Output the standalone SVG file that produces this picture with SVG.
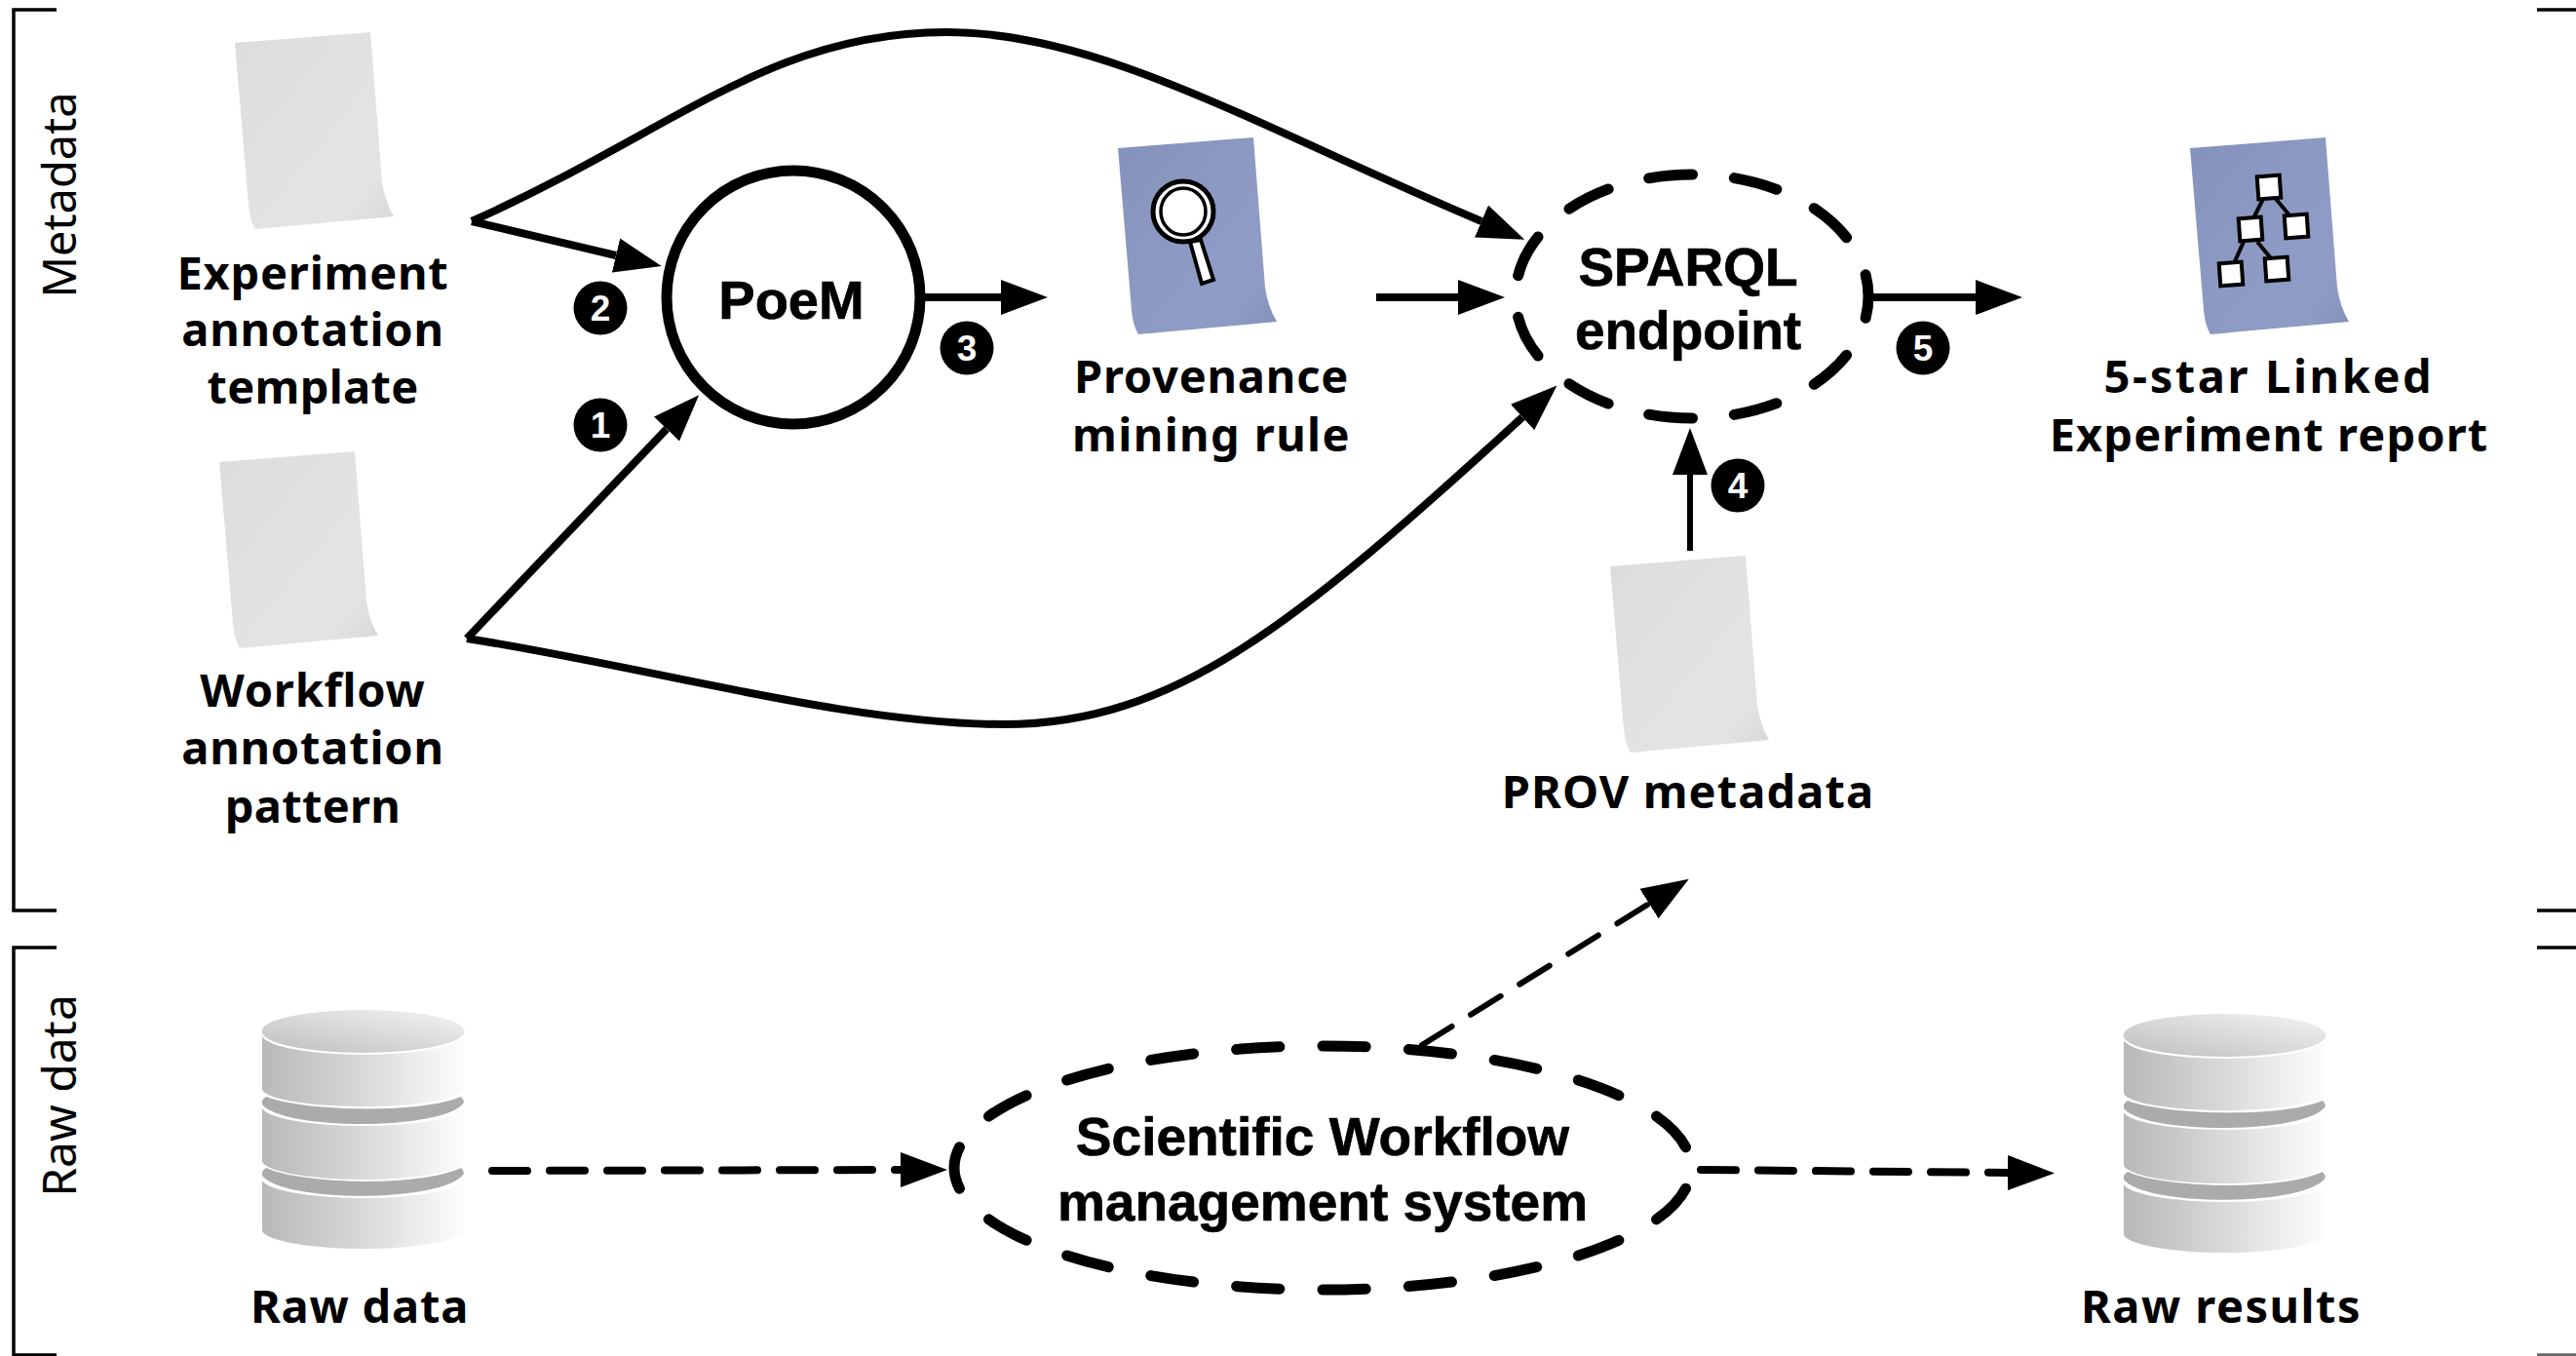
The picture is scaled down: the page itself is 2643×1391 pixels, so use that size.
<svg xmlns="http://www.w3.org/2000/svg" xmlns:xlink="http://www.w3.org/1999/xlink" width="2643" height="1391" viewBox="0 0 2643 1391">
<style>
.lbl{font-family:"Noto Sans","DejaVu Sans",sans-serif;font-weight:700;font-size:47px;text-anchor:middle;fill:#000;letter-spacing:.8px}
.hd{font-family:"Liberation Sans",Arial,sans-serif;font-weight:700;font-size:55px;text-anchor:middle;fill:#000;stroke:#000;stroke-width:.7}
.side{font-family:"Noto Sans","DejaVu Sans",sans-serif;font-size:48px;text-anchor:middle;fill:#000}
.num{font-family:"Liberation Sans",Arial,sans-serif;font-weight:700;font-size:37px;text-anchor:middle;fill:#fff}
.br{fill:none;stroke:#000;stroke-width:3.5}
.c{fill:none;stroke:#000;stroke-width:8}
.arrow{marker-end:url(#ah)}
.d{fill:none;stroke:#000;stroke-width:8;stroke-linecap:round;stroke-dasharray:36 23}
.e{fill:none;stroke:#000;stroke-width:11;stroke-linecap:round}
.sq{fill:#fff;stroke:#000;stroke-width:4;x:-11.5px;y:-11.5px;width:23px;height:23px}
.tree{fill:none;stroke:#000;stroke-width:4}
</style>
<defs>
<marker id="ah" markerUnits="userSpaceOnUse" markerWidth="50" markerHeight="38" refX="0" refY="18.5" orient="auto"><path d="M0,0.5 L48,18.5 L0,36.5 Z" fill="#000"/></marker>
<linearGradient id="gp" x1="0" y1="0" x2="1" y2="1"><stop offset="0" stop-color="#dcdcdc"/><stop offset="0.6" stop-color="#e3e3e3"/><stop offset="0.82" stop-color="#e3e3e3"/><stop offset="1" stop-color="#d6d6d6"/></linearGradient>
<linearGradient id="bp" x1="0" y1="0" x2="1" y2="1"><stop offset="0" stop-color="#8593bc"/><stop offset="0.6" stop-color="#8e9bc5"/><stop offset="0.82" stop-color="#8e9bc5"/><stop offset="1" stop-color="#8290b8"/></linearGradient>
<linearGradient id="cyl"><stop offset="0" stop-color="#b8b8b8"/><stop offset="0.5" stop-color="#d9d9d9"/><stop offset="1" stop-color="#fdfdfd"/></linearGradient>
<linearGradient id="cylt" x1="0" y1="1" x2="1" y2="0"><stop offset="0" stop-color="#bebebe"/><stop offset="1" stop-color="#f4f4f4"/></linearGradient>
<path id="paper" d="M0,11 L139,0 L151,154 Q154,174 163,189 L21,202 Q15,192 14,177 Z"/>
<g id="db">
<ellipse cx="372.5" cy="1058" rx="104" ry="22" fill="url(#cylt)"/>
<path d="M269,1063 A104,21 0 0 0 476,1063 V1118 A104,19 0 0 1 269,1118 Z" fill="url(#cyl)"/>
<path d="M269,1129 Q271,1126 273,1125 C311,1140 431,1143 473,1125 Q476,1128 476,1131 C456,1160 291,1160 269,1133 Z" fill="#ababab"/>
<path d="M269,1137 A104,20 0 0 0 476,1137 V1192 A104,20 0 0 1 269,1192 Z" fill="url(#cyl)"/>
<path d="M269,1202 Q271,1199 273,1198 C311,1215 431,1218 473,1198 Q476,1201 476,1204 C456,1234 291,1234 269,1206 Z" fill="#ababab"/>
<path d="M269,1211 A104,20 0 0 0 476,1211 V1263 A104,20 0 0 1 269,1263 Z" fill="url(#cyl)"/>
</g>
</defs>
<rect width="2643" height="1391" fill="#fff"/>

<g id="brackets">
<path class="br" d="M58,10 H14 V934 H58"/>
<path class="br" d="M58,972 H14 V1390 H58"/>
<path class="br" d="M2643,10 H2603"/>
<path class="br" d="M2643,934 H2603"/>
<path class="br" d="M2643,972 H2603"/>
<path class="br" d="M2643,1390 H2603" stroke-opacity="0.6"/>
<text class="side" style="font-size:47px" transform="translate(78,200) rotate(-90)">Metadata</text>
<text class="side" transform="translate(78,1124) rotate(-90)">Raw data</text>
</g>

<g id="connectors">
<path class="c arrow" d="M484,227 C690,135 790,33 971,33 C1130,33 1290,130 1520,227"/>
<path class="c arrow" d="M484,227 L632,262"/>
<path class="c arrow" d="M479,655 L684,440"/>
<path class="c arrow" d="M479,655 C670,685 870,743 1030,743 C1205,743 1330,640 1562,428"/>
<path class="c arrow" d="M949,305 H1027"/>
<path class="c arrow" d="M1412,305 H1496"/>
<path class="c arrow" d="M1922,305 H2027"/>
<path class="c arrow" style="stroke-width:6" d="M1734,565 V487"/>
<path class="d arrow" d="M505,1201 L924,1200"/>
<path class="d arrow" d="M1745,1200 L2060,1203"/>
<path class="d arrow" style="stroke-width:6" d="M1459,1072 L1692,927"/>
</g>

<g id="experiment-template">
<use href="#paper" transform="translate(241,33)" fill="url(#gp)"/>
<text class="lbl" x="321" y="297">Experiment</text>
<text class="lbl" x="321" y="355">annotation</text>
<text class="lbl" x="321" y="414" style="letter-spacing:.3px">template</text>
</g>
<g id="workflow-pattern">
<use href="#paper" transform="translate(225,463)" fill="url(#gp)"/>
<text class="lbl" x="321" y="725">Workflow</text>
<text class="lbl" x="321" y="784">annotation</text>
<text class="lbl" x="321" y="844" style="letter-spacing:.3px">pattern</text>
</g>
<g id="poem">
<circle cx="814" cy="305" r="130" fill="#fff" stroke="#000" stroke-width="11"/>
<text class="hd" style="font-size:56px" x="812" y="327">PoeM</text>
</g>
<g id="provenance-rule">
<use href="#paper" transform="translate(1147,141)" fill="url(#bp)"/>
<path d="M1221,248 L1233,291 L1245,287 L1232,246 Z" fill="#fff" stroke="#000" stroke-width="4"/>
<ellipse cx="1214" cy="217" rx="31" ry="31" fill="#fff" stroke="#000" stroke-width="5"/>
<ellipse cx="1214" cy="217" rx="23" ry="24" fill="#fff" stroke="#000" stroke-width="3.5"/>
<text class="lbl" x="1243" y="403">Provenance</text>
<text class="lbl" x="1243" y="463" style="letter-spacing:1.4px">mining rule</text>
</g>
<g id="sparql">
<ellipse class="e" cx="1736" cy="304" rx="181" ry="125" pathLength="946" stroke-dasharray="44 42" stroke-dashoffset="22"/>
<text class="hd" x="1732" y="293">SPARQL</text>
<text class="hd" x="1732" y="358">endpoint</text>
</g>
<g id="report">
<use href="#paper" transform="translate(2247,141)" fill="url(#bp)"/>
<path class="tree" d="M2322,204 L2312,224 M2335,204 L2350,222 M2302,248 L2293,268 M2316,248 L2330,265"/>
<rect class="sq" transform="translate(2328,192) rotate(-4)"/>
<rect class="sq" transform="translate(2356,232) rotate(-4)"/>
<rect class="sq" transform="translate(2309,235) rotate(-4)"/>
<rect class="sq" transform="translate(2289,281) rotate(-4)"/>
<rect class="sq" transform="translate(2336,276) rotate(-4)"/>
<text class="lbl" x="2328" y="403" style="letter-spacing:2.6px">5-star Linked</text>
<text class="lbl" x="2328" y="463" style="letter-spacing:1.1px">Experiment report</text>
</g>
<g id="prov-metadata">
<use href="#paper" transform="translate(1652,570)" fill="url(#gp)"/>
<text class="lbl" x="1732" y="829" style="letter-spacing:1.1px">PROV metadata</text>
</g>
<g id="workflow-system">
<ellipse class="e" cx="1357" cy="1198" rx="378" ry="125" pathLength="1672" stroke-dasharray="44 44" stroke-dashoffset="66"/>
<text class="hd" x="1357" y="1185">Scientific Workflow</text>
<text class="hd" x="1357" y="1252">management system</text>
</g>
<g id="raw-data">
<use href="#db"/>
<text class="lbl" x="369" y="1357">Raw data</text>
</g>
<g id="raw-results">
<use href="#db" transform="translate(1910,4)"/>
<text class="lbl" x="2279" y="1357" style="letter-spacing:1.5px">Raw results</text>
</g>
<g id="step-1"><circle cx="616" cy="436" r="27.5"/><text class="num" x="616" y="449">1</text></g>
<g id="step-2"><circle cx="616" cy="316" r="27.5"/><text class="num" x="616" y="329">2</text></g>
<g id="step-3"><circle cx="992" cy="357" r="27.5"/><text class="num" x="992" y="370">3</text></g>
<g id="step-4"><circle cx="1783" cy="498" r="27.5"/><text class="num" x="1783" y="511">4</text></g>
<g id="step-5"><circle cx="1973" cy="357" r="27.5"/><text class="num" x="1973" y="370">5</text></g>
</svg>
